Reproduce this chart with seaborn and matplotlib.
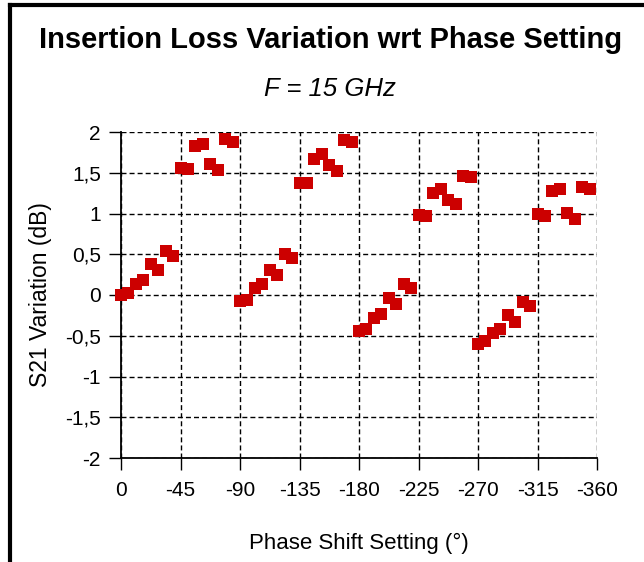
import matplotlib
matplotlib.use("Agg")
import matplotlib.pyplot as plt
from matplotlib.lines import Line2D
from matplotlib.ticker import FuncFormatter
import seaborn as sns
import pandas as pd

phase_deg = [
    0, -5.625, -11.25, -16.875, -22.5, -28.125, -33.75, -39.375,
    -45, -50.625, -56.25, -61.875, -67.5, -73.125, -78.75, -84.375,
    -90, -95.625, -101.25, -106.875, -112.5, -118.125, -123.75, -129.375,
    -135, -140.625, -146.25, -151.875, -157.5, -163.125, -168.75, -174.375,
    -180, -185.625, -191.25, -196.875, -202.5, -208.125, -213.75, -219.375,
    -225, -230.625, -236.25, -241.875, -247.5, -253.125, -258.75, -264.375,
    -270, -275.625, -281.25, -286.875, -292.5, -298.125, -303.75, -309.375,
    -315, -320.625, -326.25, -331.875, -337.5, -343.125, -348.75, -354.375,
]
s21_var_db = [
    0.00, 0.03, 0.13, 0.18, 0.38, 0.31, 0.54, 0.48,
    1.56, 1.54, 1.83, 1.85, 1.61, 1.53, 1.91, 1.88,
    -0.07, -0.06, 0.09, 0.14, 0.31, 0.25, 0.50, 0.45,
    1.38, 1.37, 1.67, 1.73, 1.59, 1.52, 1.90, 1.88,
    -0.44, -0.42, -0.28, -0.23, -0.04, -0.11, 0.14, 0.09,
    0.98, 0.97, 1.25, 1.30, 1.17, 1.12, 1.46, 1.45,
    -0.60, -0.57, -0.47, -0.42, -0.25, -0.33, -0.08, -0.14,
    1.00, 0.97, 1.28, 1.30, 1.01, 0.93, 1.33, 1.30,
]
x_ticks = [0, -45, -90, -135, -180, -225, -270, -315, -360]
y_ticks = [-2, -1.5, -1, -0.5, 0, 0.5, 1, 1.5, 2]

title = "Insertion Loss Variation wrt Phase Setting"
subtitle = "F = 15 GHz"
x_label = "Phase Shift Setting (°)"
y_label = "S21 Variation (dB)"

sns.set_theme(style="white")
plt.rcParams["font.family"] = ["Liberation Sans", "DejaVu Sans"]

W, H = 644, 562
fig = plt.figure(figsize=(W / 100, H / 100), dpi=100)
ax = fig.add_axes([121 / W, 1 - 458 / H, 476 / W, 326 / H])

df = pd.DataFrame({"phase": phase_deg, "s21": s21_var_db})
sns.scatterplot(data=df, x="phase", y="s21", ax=ax, marker="s", s=80,
                color="#CC0000", linewidth=0, zorder=3, clip_on=False)

ax.set_xlim(0, -360)
ax.set_ylim(-2, 2)
ax.set_xticks(x_ticks)
ax.set_yticks(y_ticks)

def fmt(v, pos=None):
    return ("%g" % v).replace(".", ",")

ax.xaxis.set_major_formatter(FuncFormatter(fmt))
ax.yaxis.set_major_formatter(FuncFormatter(fmt))

ax.grid(True, color="black", linestyle=(0, (3.6, 2.2)), linewidth=1.0, zorder=1)
for side in ["top", "right"]:
    ax.spines[side].set_visible(False)
for side in ["left", "bottom"]:
    ax.spines[side].set_visible(True)
    ax.spines[side].set_color("black")
    ax.spines[side].set_linewidth(1.3)

ax.tick_params(axis="both", which="major", direction="out", length=8.5, width=1.0,
               color="black", labelsize=15, labelcolor="black", bottom=True, left=True)
ax.tick_params(axis="x", pad=8)
ax.tick_params(axis="y", pad=6)

ax.set_xlabel(x_label, fontsize=16, color="black", labelpad=24)
ax.set_ylabel(y_label, fontsize=16.5, color="black", labelpad=9)

fig.text(331 / W, 1 - 40 / H, title, ha="center", va="center",
         fontsize=21, fontweight="bold", color="black")
fig.text(330 / W, 1 - 89 / H, subtitle, ha="center", va="center",
         fontsize=18.5, fontstyle="italic", color="black")

# outer frame (left and top edges visible)
fig.add_artist(Line2D([9.5 / W, 9.5 / W], [0, 1 - 4.5 / H], transform=fig.transFigure,
                      color="black", linewidth=3, solid_capstyle="projecting"))
fig.add_artist(Line2D([9.5 / W, 1], [1 - 4.5 / H, 1 - 4.5 / H], transform=fig.transFigure,
                      color="black", linewidth=3, solid_capstyle="projecting"))

fig.savefig("out.png", dpi=100)
